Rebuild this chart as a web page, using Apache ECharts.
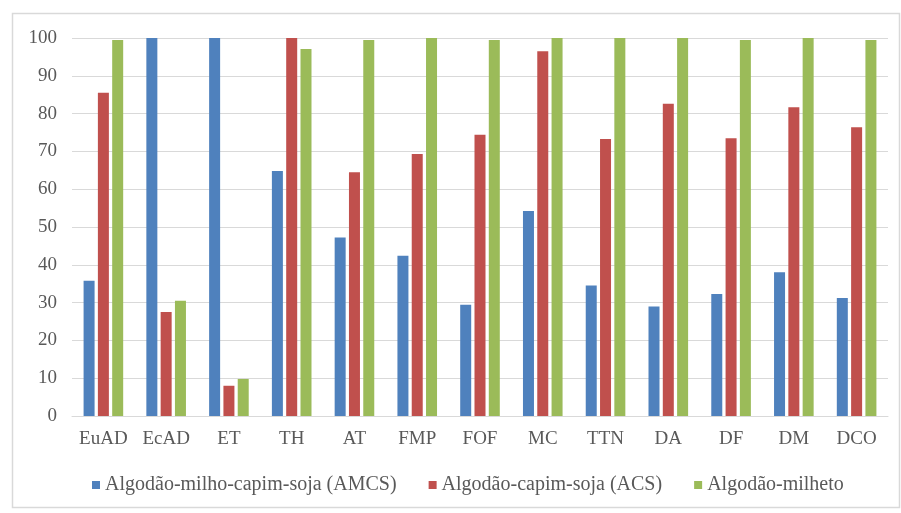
<!DOCTYPE html>
<html>
<head>
<meta charset="utf-8">
<script src="https://cdn.jsdelivr.net/npm/echarts@6/dist/echarts.min.js"></script>
<style>html,body{margin:0;padding:0;background:#fff}#c{width:901px;height:513px}</style>
</head>
<body>
<div id="c"></div>
<script>
const categories = ['EuAD','EcAD','ET','TH','AT','FMP','FOF','MC','TTN','DA','DF','DM','DCO'];
const seriesNames = ['Algodão-milho-capim-soja (AMCS)','Algodão-capim-soja (ACS)','Algodão-milheto'];
const amcs = [35.8, 100, 100, 64.8, 47.2, 42.4, 29.4, 54.2, 34.5, 29.0, 32.3, 38.0, 31.2];
const acs = [85.5, 27.5, 8, 100, 64.5, 69.3, 74.4, 96.5, 73.3, 82.6, 73.5, 81.7, 76.4];
const milheto = [99.5, 30.5, 9.8, 97.1, 99.5, 100, 99.5, 100, 100, 100, 99.5, 100, 99.5];
const yTicks = [0,10,20,30,40,50,60,70,80,90,100];
const colors = ['#4F81BD','#C0504D','#9BBB59'];

const chart = echarts.init(document.getElementById('c'));
const font = '"Liberation Serif", "Times New Roman", serif';
chart.setOption({
  animation: false,
  color: colors,
  graphic: [{type:'rect', left:10, top:11, shape:{width:887, height:494}, style:{fill:'none', stroke:'#d9d9d9', lineWidth:1.5}, silent:true}],
  grid: {left:72, right:13, top:38, bottom:97},
  legend: {
    bottom: 13, left: 87, itemWidth: 8, itemHeight: 8, itemGap: 32, icon: 'rect',
    textStyle: {fontFamily: font, fontSize: 20, color:'#595959'},
    data: seriesNames
  },
  xAxis: {
    type:'category', data: categories,
    axisLine:{lineStyle:{color:'#d9d9d9'}}, axisTick:{show:false},
    axisLabel:{fontFamily:font, fontSize:19, color:'#595959', margin:14, interval:0}
  },
  yAxis: {
    type:'value', min: yTicks[0], max: yTicks[yTicks.length-1], interval: 10,
    axisLine:{show:false}, axisTick:{show:false},
    splitLine:{lineStyle:{color:'#d9d9d9'}},
    axisLabel:{fontFamily:font, fontSize:19, color:'#595959', margin:15}
  },
  series: [
    {name: seriesNames[0], type:'bar', data: amcs, barWidth: 11, barGap:'30%'},
    {name: seriesNames[1], type:'bar', data: acs, barWidth: 11, barGap:'30%'},
    {name: seriesNames[2], type:'bar', data: milheto, barWidth: 11, barGap:'30%'}
  ]
});
</script>
</body>
</html>
